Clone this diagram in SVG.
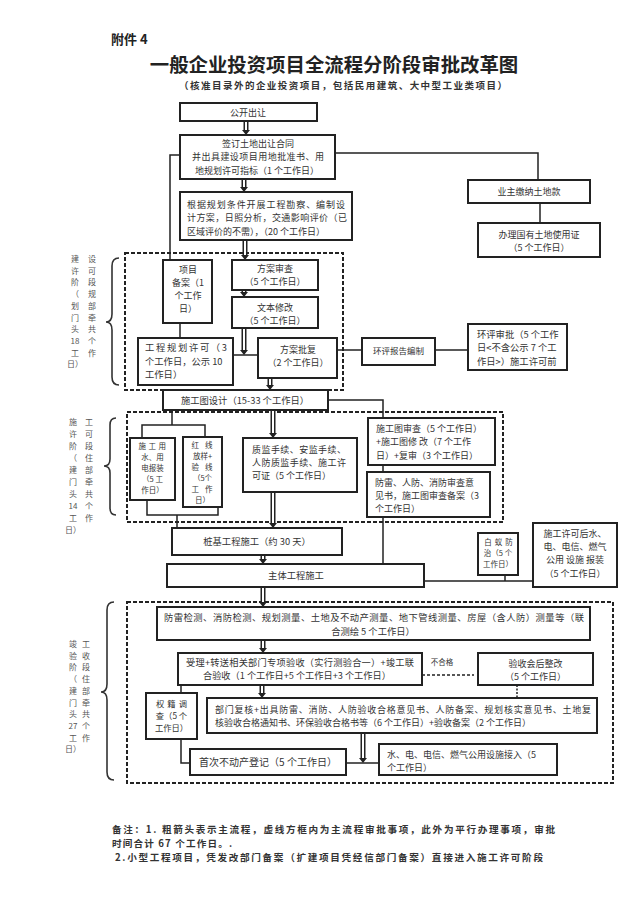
<svg xmlns="http://www.w3.org/2000/svg" width="640" height="906" viewBox="0 0 640 906">
<style>
text{font-family:"Noto Sans CJK SC","Liberation Sans",sans-serif;fill:#333}
.t{font-size:9px}
.s{font-size:7.5px}
.m{text-anchor:middle}
.lab{font-size:8px;fill:#555;text-anchor:middle}
.box{fill:#fff;stroke:#222;stroke-width:2}
.dash{fill:none;stroke:#222;stroke-width:2;stroke-dasharray:4 2}
.ln{fill:none;stroke:#222;stroke-width:1.5}
.dbo{fill:none;stroke:#222;stroke-width:5}
.dbi{fill:none;stroke:#fff;stroke-width:2}
.ah{fill:#222}
.br{fill:none;stroke:#333;stroke-width:1.6}
</style>
<rect width="640" height="906" fill="#fff"/>
<g id="title">
<text x="111" y="44" style="font-size:13px;font-weight:700;fill:#222">附件 4</text>
<text x="334" y="72" class="m" style="font-size:19.4px;font-weight:700;fill:#222">一般企业投资项目全流程分阶段审批改革图</text>
<text x="343" y="89" class="m" style="font-size:9.5px;font-weight:700" textLength="328" lengthAdjust="spacing">（核准目录外的企业投资项目，包括民用建筑、大中型工业类项目）</text>
</g>
<g id="dashed-frames">
<rect class="dash" x="125" y="253" width="218" height="137"/>
<rect class="dash" x="127" y="412" width="376" height="110"/>
<rect class="dash" x="127" y="602" width="486" height="181"/>
</g>
<g id="connectors">
<path class="ln" d="M335 153H538V180"/>
<path class="ln" d="M540 203V223"/>
<path class="ln" d="M180 155H170V260"/>
<path class="ln" d="M180 323V338"/>
<path class="ln" d="M233 355H258"/>
<path class="ln" d="M337 350H362"/>
<path class="ln" d="M435 350H468"/>
<path class="ln" d="M328 400H383V418"/>
<path class="ln" d="M383 465V472"/>
<path class="ln" d="M383 517V564"/>
<path class="ln" d="M172 410V425M142 438V425H205V437"/>
<path class="ln" d="M147 500V515H218V507M177 515V528"/>
<path class="ln" d="M424 581H533M505 575V581"/>
<path class="ln" d="M422 675H474" stroke-dasharray="3 2"/>
<path class="ln" d="M517 685V698" stroke-dasharray="2 1.5"/>
<path class="ln" d="M181 685V693"/>
<path class="ln" d="M181 739V763H190"/>
<path class="ln" d="M346 763H379"/>
<text x="442" y="665" class="m" style="font-size:7.5px">不合格</text>
<path class="dbo" d="M246 121V131M244 179V188M245 240V256M244 290V293M244 328V351M270 378V386M273 410V434M273 492V524M263 555V560M263 587V603M263 640V649M262 685V694M363 733V759"/>
<path class="dbi" d="M246 122V131M244 180V188M245 241V256M244 291V293M244 329V351M270 379V386M273 411V434M273 493V524M263 556V560M263 588V603M263 641V649M262 686V694M363 734V759"/>
<path class="ah" d="M242 130H250L246 135ZM240 187H248L244 192ZM241 255H249L245 260ZM240 292H248L244 297ZM240 350H248L244 355ZM266 385H274L270 390ZM269 433H277L273 438ZM269 523H277L273 528ZM259 559H267L263 564ZM259 602H267L263 607ZM259 648H267L263 653ZM258 693H266L262 698ZM359 758H367L363 763Z"/>
</g>
<g id="n-gongkai"><rect class="box" x="180" y="103" width="137" height="18"/><text x="248" y="115.5" class="t m">公开出让</text></g>
<g id="n-qianding"><rect class="box" x="180" y="135" width="155" height="44"/>
<text class="t m"><tspan x="258" y="147">签订土地出让合同</tspan><tspan x="258" y="160.3" textLength="132" lengthAdjust="spacing">并出具建设项目用地批准书、用</tspan><tspan x="257" y="173.6">地规划许可指标（1 个工作日）</tspan></text></g>
<g id="n-genju"><rect class="box" x="180" y="192" width="172" height="48"/>
<text class="t"><tspan x="187" y="208" textLength="158" lengthAdjust="spacing">根据规划条件开展工程勘察、编制设</tspan><tspan x="187" y="221.3" textLength="160" lengthAdjust="spacing">计方案，日照分析，交通影响评价（已</tspan><tspan x="187" y="234.6">区域评价的不需），（20 个工作日）</tspan></text></g>
<g id="n-yezhu"><rect class="box" x="468" y="180" width="122" height="23"/><text x="529" y="195" class="t m">业主缴纳土地款</text></g>
<g id="n-banli"><rect class="box" x="478" y="223" width="122" height="34"/>
<text class="t m"><tspan x="539" y="238">办理国有土地使用证</tspan><tspan x="539" y="251.3">（5 个工作日）</tspan></text></g>
<g id="n-xiangmu"><rect class="box" x="163" y="260" width="49" height="63"/>
<text class="t m"><tspan x="188" y="272.5">项目</tspan><tspan x="188" y="285.8">备案（1</tspan><tspan x="188" y="299.1">个工作</tspan><tspan x="188" y="312.4">日）</tspan></text></g>
<g id="n-shencha"><rect class="box" x="232" y="260" width="86" height="30"/>
<text class="t m"><tspan x="275" y="271.5">方案审查</tspan><tspan x="275" y="284.8">（5 个工作日）</tspan></text></g>
<g id="n-xiugai"><rect class="box" x="232" y="297" width="86" height="31"/>
<text class="t m"><tspan x="275" y="310.5">文本修改</tspan><tspan x="275" y="323.8">（5 个工作日）</tspan></text></g>
<g id="n-guihua"><rect class="box" x="138" y="338" width="95" height="47"/>
<text class="t" style="font-size:9.3px"><tspan x="145" y="351" textLength="82" lengthAdjust="spacing">工程规划许可（3</tspan><tspan x="145" y="364.5">个工作日，公示 10</tspan><tspan x="145" y="378">工作日）</tspan></text></g>
<g id="n-pifu"><rect class="box" x="258" y="338" width="79" height="40"/>
<text class="t m"><tspan x="298" y="353">方案批复</tspan><tspan x="298" y="366.3">（2 个工作日）</tspan></text></g>
<g id="n-huanping"><rect class="box" x="362" y="338" width="73" height="27"/><text x="398.5" y="354" class="m" style="font-size:8.5px">环评报告编制</text></g>
<g id="n-huanpingsp"><rect class="box" x="468" y="324" width="99" height="46"/>
<text class="t" style="font-size:9.3px"><tspan x="477" y="337.5">环评审批（5 个工作</tspan><tspan x="477" y="351">日&lt;不含公示 7 个工</tspan><tspan x="477" y="364.5">作日&gt;）施工许可前</tspan></text></g>
<g id="n-sheji"><rect class="box" x="163" y="390" width="165" height="20"/><text x="245" y="403.5" class="t m" style="font-size:9.3px">施工图设计（15-33 个工作日）</text></g>
<g id="n-yongshui"><rect class="box" x="130" y="438" width="45" height="62"/>
<text class="s m"><tspan x="153.5" y="449" letter-spacing="2.5">施工用</tspan><tspan x="152.5" y="460">水、用</tspan><tspan x="152.5" y="471">电报装</tspan><tspan x="152.5" y="482">（5 工</tspan><tspan x="152.5" y="493">作日）</tspan></text></g>
<g id="n-hongxian"><rect class="box" x="183" y="437" width="39" height="70"/>
<text class="s m"><tspan x="205" y="448" letter-spacing="6">红线</tspan><tspan x="202.5" y="459">放样+</tspan><tspan x="205" y="470" letter-spacing="6">验线</tspan><tspan x="202.5" y="481">（5个</tspan><tspan x="205" y="492" letter-spacing="6">工作</tspan><tspan x="202.5" y="503">日）</tspan></text></g>
<g id="n-zhijian"><rect class="box" x="243" y="438" width="114" height="54"/>
<text class="t"><tspan x="252" y="453" textLength="94" lengthAdjust="spacing">质监手续、安监手续、</tspan><tspan x="252" y="466.2" textLength="94" lengthAdjust="spacing">人防质监手续、施工许</tspan><tspan x="252" y="479.4">可证（5 个工作日）</tspan></text></g>
<g id="n-tushen"><rect class="box" x="368" y="418" width="127" height="47"/>
<text class="t"><tspan x="376" y="432">施工图审查（5 个工作日）</tspan><tspan x="376" y="445.3">+施工图修 改（7 个工作</tspan><tspan x="376" y="458.6">日）+复审（3 个工作日）</tspan></text></g>
<g id="n-fanglei"><rect class="box" x="367" y="472" width="123" height="45"/>
<text class="t"><tspan x="375" y="485.5">防雷、人防、消防审查意</tspan><tspan x="375" y="498.8">见书，施工图审查备案（3</tspan><tspan x="375" y="512.1">个工作日）</tspan></text></g>
<g id="n-zhuangji"><rect class="box" x="172" y="528" width="170" height="27"/><text x="257" y="544.5" class="t m" style="font-size:9.3px">桩基工程施工（约 30 天）</text></g>
<g id="n-zhuti"><rect class="box" x="167" y="564" width="257" height="23"/><text x="296" y="579" class="t m" style="font-size:9.3px">主体工程施工</text></g>
<g id="n-baiyi"><rect class="box" x="478" y="533" width="40" height="42"/>
<text class="s m"><tspan x="500" y="545" letter-spacing="3">白蚁防</tspan><tspan x="498" y="556">治（5 个</tspan><tspan x="498" y="567">工作日）</tspan></text></g>
<g id="n-baozhuang"><rect class="box" x="533" y="523" width="84" height="64"/>
<text class="t m"><tspan x="575" y="537">施工许可后水、</tspan><tspan x="575" y="550.2">电、电信、燃气</tspan><tspan x="575" y="563.4">公用 设施 报装</tspan><tspan x="575" y="576.6">（5 个工作日）</tspan></text></g>
<g id="n-jiance"><rect class="box" x="157" y="607" width="433" height="33"/>
<text class="t" style="font-size:9.3px"><tspan x="164" y="621" textLength="420" lengthAdjust="spacing">防雷检测、消防检测、规划测量、土地及不动产测量、地下管线测量、房屋（含人防）测量等（联</tspan><tspan x="373" y="635" text-anchor="middle">合测绘 5 个工作日）</tspan></text></g>
<g id="n-shouli"><rect class="box" x="178" y="653" width="244" height="32"/>
<text class="t" style="font-size:9.2px"><tspan x="186" y="665.8" textLength="228" lengthAdjust="spacing">受理+转送相关部门专项验收（实行测验合一）+竣工联</tspan><tspan x="203" y="679.1">合验收（1 个工作日+5 个工作日+3 个工作日）</tspan></text></g>
<g id="n-zhenggai"><rect class="box" x="478" y="653" width="115" height="32"/>
<text class="t m"><tspan x="535.5" y="667">验收会后整改</tspan><tspan x="535.5" y="680.3">（5 个工作日）</tspan></text></g>
<g id="n-fuhe"><rect class="box" x="207" y="698" width="390" height="35"/>
<text class="t"><tspan x="215" y="713" textLength="376" lengthAdjust="spacing">部门复核+出具防雷、消防、人防验收合格意见书、人防备案、规划核实意见书、土地复</tspan><tspan x="215" y="726.3">核验收合格通知书、环保验收合格书等（6 个工作日）+验收备案（2 个工作日）</tspan></text></g>
<g id="n-quanji"><rect class="box" x="146" y="693" width="51" height="46"/>
<text class="t m" style="font-size:8.3px"><tspan x="173" y="707" letter-spacing="3">权籍调</tspan><tspan x="171.5" y="719.1">查（5 个</tspan><tspan x="171.5" y="731.2">工作日）</tspan></text></g>
<g id="n-dengji"><rect class="box" x="190" y="749" width="156" height="26"/><text x="268" y="766" class="m" style="font-size:10px">首次不动产登记（5 个工作日）</text></g>
<g id="n-jieru"><rect class="box" x="379" y="744" width="178" height="31"/>
<text class="t"><tspan x="387" y="757.5">水、电、电信、燃气公用设施接入（5</tspan><tspan x="387" y="770.8">个工作日）</tspan></text></g>
<g id="stage-labels">
<path class="br" d="M119 258Q112 258 112 266V314Q112 322 106 322Q112 322 112 330V377Q112 385 119 385"/>
<path class="br" d="M116 418Q110 418 110 425V459Q110 466 104 466Q110 466 110 473V508Q110 515 116 515"/>
<path class="br" d="M114 602Q107 602 107 610V684Q107 692 101 692Q107 692 107 700V772Q107 780 114 780"/>
<text class="lab"><tspan x="75" y="262">建</tspan><tspan x="75" y="273.7">许</tspan><tspan x="75" y="285.4">阶</tspan><tspan x="75" y="297.1">（</tspan><tspan x="75" y="308.8">划</tspan><tspan x="75" y="320.5">门</tspan><tspan x="75" y="332.2">头</tspan><tspan x="75" y="343.9">18</tspan><tspan x="75" y="355.6">工</tspan><tspan x="75" y="367.3">日）</tspan></text>
<text class="lab"><tspan x="92" y="262">设</tspan><tspan x="92" y="273.7">可</tspan><tspan x="92" y="285.4">段</tspan><tspan x="92" y="297.1">规</tspan><tspan x="92" y="308.8">部</tspan><tspan x="92" y="320.5">牵</tspan><tspan x="92" y="332.2">共</tspan><tspan x="92" y="343.9">个</tspan><tspan x="92" y="355.6">作</tspan></text>
<text class="lab"><tspan x="73" y="425">施</tspan><tspan x="73" y="437">许</tspan><tspan x="73" y="449">阶</tspan><tspan x="73" y="461">（</tspan><tspan x="73" y="473">建</tspan><tspan x="73" y="485">门</tspan><tspan x="73" y="497">头</tspan><tspan x="73" y="509">14</tspan><tspan x="73" y="521">工</tspan><tspan x="73" y="533">日）</tspan></text>
<text class="lab"><tspan x="89" y="425">工</tspan><tspan x="89" y="437">可</tspan><tspan x="89" y="449">段</tspan><tspan x="89" y="461">住</tspan><tspan x="89" y="473">部</tspan><tspan x="89" y="485">牵</tspan><tspan x="89" y="497">共</tspan><tspan x="89" y="509">个</tspan><tspan x="89" y="521">作</tspan></text>
<text class="lab"><tspan x="73" y="647">竣</tspan><tspan x="73" y="658.7">验</tspan><tspan x="73" y="670.4">阶</tspan><tspan x="73" y="682.1">（</tspan><tspan x="73" y="693.8">建</tspan><tspan x="73" y="705.5">门</tspan><tspan x="73" y="717.2">头</tspan><tspan x="73" y="728.9">27</tspan><tspan x="73" y="740.6">工</tspan><tspan x="73" y="752.3">日）</tspan></text>
<text class="lab"><tspan x="86" y="647">工</tspan><tspan x="86" y="658.7">收</tspan><tspan x="86" y="670.4">段</tspan><tspan x="86" y="682.1">住</tspan><tspan x="86" y="693.8">部</tspan><tspan x="86" y="705.5">牵</tspan><tspan x="86" y="717.2">共</tspan><tspan x="86" y="728.9">个</tspan><tspan x="86" y="740.6">作</tspan></text>
</g>
<g id="notes" style="font-size:9.6px;font-weight:700">
<text x="112" y="833" style="fill:#333" textLength="443" lengthAdjust="spacing">备注：1. 粗箭头表示主流程，虚线方框内为主流程审批事项，此外为平行办理事项，审批</text>
<text x="112" y="847" style="fill:#333" textLength="120" lengthAdjust="spacing">时间合计 67 个工作日。.</text>
<text x="115" y="861" style="fill:#333" textLength="428" lengthAdjust="spacing">2.小型工程项目，凭发改部门备案（扩建项目凭经信部门备案）直接进入施工许可阶段</text>
</g>
</svg>
